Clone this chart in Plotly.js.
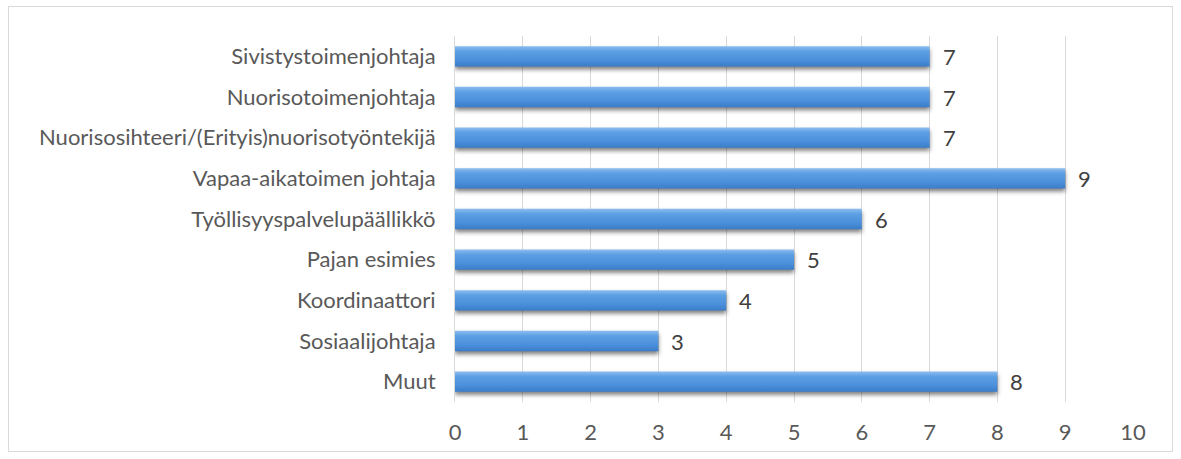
<!DOCTYPE html>
<html>
<head>
<meta charset="utf-8">
<script src="https://cdn.plot.ly/plotly-3.0.1.min.js"></script>
<style>
html,body{margin:0;padding:0;background:#fff;}
#wrap{position:relative;width:1181px;height:459px;}
#chart{width:1181px;height:459px;}
#frame{position:absolute;left:8px;top:6px;width:1165px;height:446px;border:1px solid #d9d9d9;box-sizing:border-box;pointer-events:none;}
.bars .point path{filter:drop-shadow(0px 3px 2px rgba(0,0,0,0.5));}
</style>
</head>
<body>
<div id="wrap"><div id="chart"></div><div id="frame"></div></div>
<script>
const categories = [
  "Sivistystoimenjohtaja",
  "Nuorisotoimenjohtaja",
  "Nuorisosihteeri/(Erityis)nuorisotyöntekijä",
  "Vapaa-aikatoimen johtaja",
  "Työllisyyspalvelupäällikkö",
  "Pajan esimies",
  "Koordinaattori",
  "Sosiaalijohtaja",
  "Muut"
];
const values = [7, 7, 7, 9, 6, 5, 4, 3, 8];
const xTicks = [0,1,2,3,4,5,6,7,8,9,10];

const font = "Lato, 'Open Sans', sans-serif";

const trace = {
  type: 'bar',
  orientation: 'h',
  y: categories,
  x: values,
  marker: {color: '#4a8fdb', line: {width: 0}},
  hoverinfo: 'none'
};

const annotations = categories.map((c, i) => ({
  x: values[i], y: c, xref: 'x', yref: 'y',
  text: String(values[i]), showarrow: false,
  xanchor: 'left', xshift: 11,
  font: {family: font, size: 22, color: '#404040'}
}));

const layout = {
  width: 1181, height: 459,
  margin: {l: 455, r: 48, t: 36, b: 57},
  paper_bgcolor: '#ffffff', plot_bgcolor: '#ffffff',
  showlegend: false,
  bargap: 0.5,
  xaxis: {
    range: [0, 10], tickvals: xTicks, ticktext: xTicks.map(String),
    showgrid: true, gridcolor: '#d9d9d9', gridwidth: 1,
    zeroline: false, showline: false, ticks: '', ticklabelstandoff: 15,
    tickfont: {family: font, size: 22, color: '#595959'}, fixedrange: true
  },
  yaxis: {
    autorange: 'reversed', type: 'category',
    showgrid: false, zeroline: false,
    showline: true, linecolor: '#d9d9d9', linewidth: 1,
    ticks: '', ticklabelstandoff: 14,
    tickfont: {family: font, size: 22, color: '#595959'}, fixedrange: true
  },
  annotations: annotations
};

Plotly.newPlot('chart', [trace], layout, {displayModeBar: false, staticPlot: true}).then(gd => {
  const svg = gd.querySelector('svg.main-svg');
  const ns = 'http://www.w3.org/2000/svg';
  let defs = svg.querySelector('defs');
  if (!defs) { defs = document.createElementNS(ns, 'defs'); svg.insertBefore(defs, svg.firstChild); }
  const g = document.createElementNS(ns, 'linearGradient');
  g.setAttribute('id', 'barGrad');
  g.setAttribute('x1', '0'); g.setAttribute('y1', '0'); g.setAttribute('x2', '0'); g.setAttribute('y2', '1');
  [['0', '#8dbdf0'], ['0.25', '#5d9fe3'], ['0.7', '#4a8fdb'], ['1', '#3a7cc8']].forEach(([o, c]) => {
    const s = document.createElementNS(ns, 'stop');
    s.setAttribute('offset', o); s.setAttribute('stop-color', c);
    g.appendChild(s);
  });
  defs.appendChild(g);
  gd.querySelectorAll('.bars .point path').forEach(p => { p.style.fill = 'url(#barGrad)'; });
});
</script>
</body>
</html>
